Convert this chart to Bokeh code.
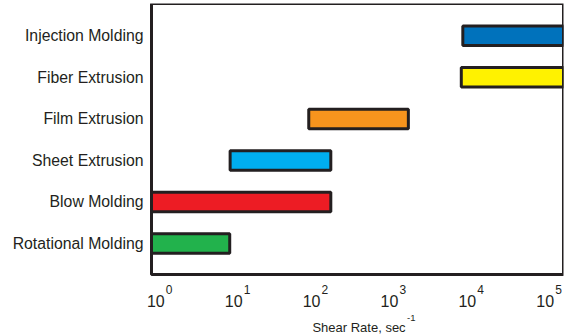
from bokeh.plotting import figure
from bokeh.models import Range1d, LinearScale, FixedTicker, ColumnDataSource
from bokeh.core.properties import value
from bokeh.embed import file_html
from bokeh.resources import INLINE

# ---- data ----
processes = ["Rotational Molding", "Blow Molding", "Sheet Extrusion",
             "Film Extrusion", "Fiber Extrusion", "Injection Molding"]
rate_low = [1, 1, 9, 81, 5750, 6000]
rate_high = [8.9, 150, 150, 1310, 1e5, 1e5]
colors = ["#22b24c", "#ed1c24", "#00aeef", "#f7941d", "#fff200", "#0072bc"]
tick_base = ["10", "10", "10", "10", "10", "10"]
tick_exponents = ["0", "1", "2", "3", "4", "5"]
x_title = "Shear Rate, sec"
x_title_sup = "-1"

INK = "#231f20"
FONT = "Liberation Sans"

# axis box limits and layout constants
x_min, x_max = 1, 1e5
y_min, y_max = -0.746, 5.778
px_per_unit = 41.54          # vertical scale of the box
px_per_decade = 82.46        # horizontal scale of the box
below_px = 61                # room under the box for decade labels / title
left_pad = 6                 # room left of the box so the first label is not clipped
label_step_px = 77.94        # spacing of the decade labels
label0_shift_px = 4.3        # first label centre, right of the box edge

positions = list(range(len(processes)))
src = ColumnDataSource(dict(y=positions, left=rate_low, right=rate_high, color=colors))

xr = Range1d(x_min / 10 ** (left_pad / px_per_decade), x_max)
yr = Range1d(y_min - below_px / px_per_unit, y_max)
p = figure(width=568, height=335, x_axis_type="log", x_axis_location=None,
           x_range=xr, y_range=yr,
           output_backend="svg", toolbar_location=None,
           min_border_left=151 - left_pad, min_border_right=5, min_border_top=3,
           min_border_bottom=0)
p.outline_line_color = None
p.xgrid.visible = False
p.ygrid.visible = False

p.hbar(y="y", left="left", right="right", height=0.47, fill_color="color",
       line_color=INK, line_width=3, source=src)

# axis box
p.quad(left=[x_min], right=[x_max], bottom=[y_min], top=[y_max],
       fill_color=None, line_color=INK, line_width=3)

# y axis (category names)
ya = p.yaxis[0]
ya.ticker = FixedTicker(ticks=positions)
ya.major_label_overrides = {i: n for i, n in zip(positions, processes)}
ya.axis_line_color = None
ya.major_tick_line_color = None
ya.minor_tick_line_color = None
ya.major_tick_out = 0
ya.major_label_standoff = 8 - left_pad
ya.major_label_text_font = FONT
ya.major_label_text_font_size = "15.8px"
ya.major_label_text_color = INK

# decade labels, evenly spaced on a linear helper range
box_px = 5 * px_per_decade
lab_start = -(left_pad + label0_shift_px) / label_step_px
lab_end = (box_px - label0_shift_px) / label_step_px
p.extra_x_ranges = {"lab": Range1d(lab_start, lab_end)}
p.extra_x_scales = {"lab": LinearScale()}
label_pos = list(range(len(tick_base)))
ys = [y_min] * len(label_pos)

p.text(x=label_pos, y=ys, text=tick_base, x_range_name="lab", y_offset=26,
       text_font=value(FONT), text_font_size="16px", text_color=INK,
       text_align="center", text_baseline="alphabetic")
p.text(x=label_pos, y=ys, text=tick_exponents, x_range_name="lab", x_offset=10, y_offset=15,
       text_font=value(FONT), text_font_size="12px", text_color=INK,
       text_align="left", text_baseline="alphabetic")

mid = (left_pad + box_px / 2) / label_step_px + lab_start
p.text(x=[mid], y=[y_min], text=[x_title], x_range_name="lab", x_offset=1.5, y_offset=53,
       text_font=value(FONT), text_font_size="13px", text_color=INK,
       text_align="center", text_baseline="alphabetic")
p.text(x=[mid], y=[y_min], text=[x_title_sup], x_range_name="lab", x_offset=49.6, y_offset=43,
       text_font=value(FONT), text_font_size="9.5px", text_color=INK,
       text_align="left", text_baseline="alphabetic")

open("out.html", "w").write(file_html(p, INLINE))
